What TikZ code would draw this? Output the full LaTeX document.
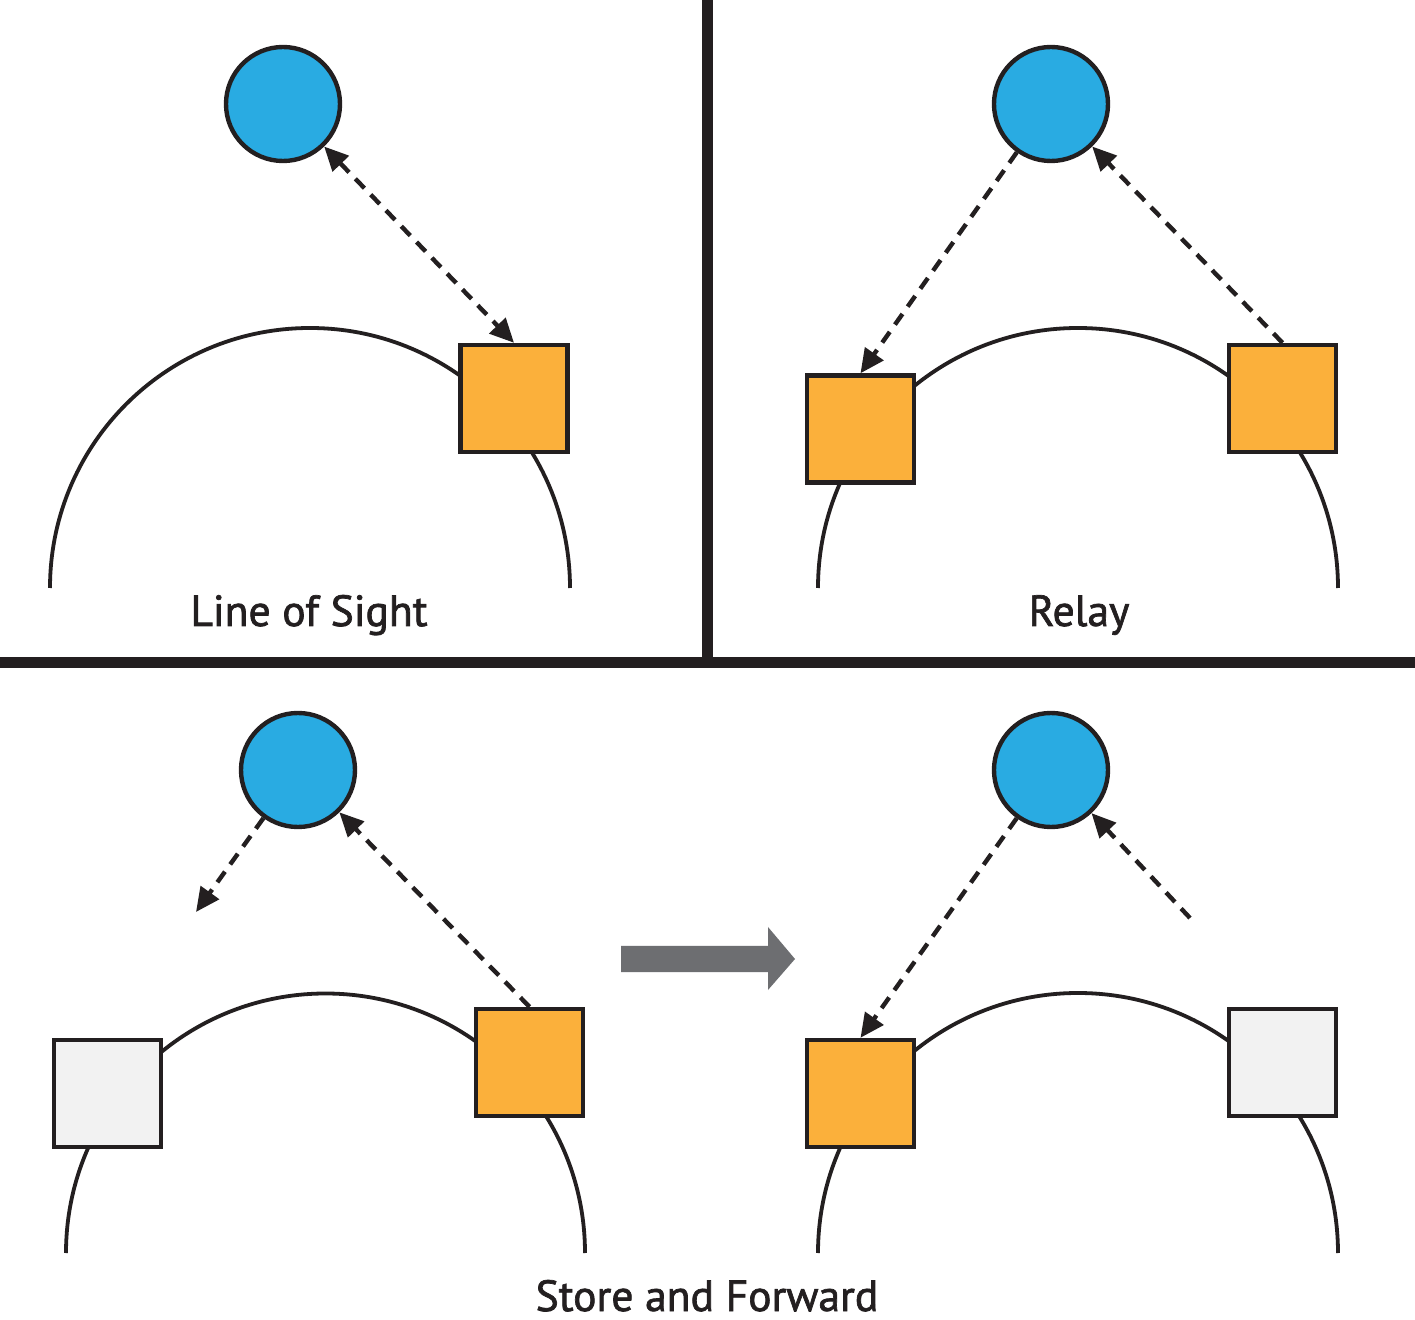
\documentclass[tikz,border=0pt]{standalone}
\usepackage{fontspec}
\setmainfont{PT Sans}
\newfontfamily\lblfont{PT Sans}[FakeBold=1.6]
\usetikzlibrary{arrows.meta}
\definecolor{ink}{HTML}{231F20}
\definecolor{skyb}{HTML}{29ABE2}
\definecolor{orng}{HTML}{FBB03B}
\definecolor{pale}{HTML}{F2F2F2}
\definecolor{slate}{HTML}{6D6E71}
\begin{document}
\begin{tikzpicture}[x=0.5pt,y=-0.5pt,
  sat/.style={circle, draw=ink, fill=skyb, line width=2.2pt, minimum size=57pt, inner sep=0pt},
  box/.style={rectangle, draw=ink, line width=2.2pt, minimum size=53.5pt, inner sep=0pt},
  onbox/.style={box, fill=orng},
  offbox/.style={box, fill=pale},
  orbit/.style={draw=ink, line width=1.9pt},
  link/.style={draw=ink, line width=2.2pt, dash pattern=on 6.5pt off 4.5pt},
  headtip/.style={-{Triangle[length=12pt,width=11pt]}},
  bothtip/.style={{Triangle[length=12pt,width=11pt]}-{Triangle[length=12pt,width=11pt]}},
  divider/.style={draw=ink, line width=5.3pt},
  lbl/.style={font=\lblfont\fontsize{21.8}{25}\selectfont, text=ink, inner sep=0pt, anchor=base}]
\useasboundingbox (0,0) rectangle (1415,1320);
\fill[white] (0,0) rectangle (1415,1320);

% dividers
\draw[divider] (707.5,0) -- (707.5,662);
\draw[divider] (0,662.5) -- (1415,662.5);

% orbits
\draw[orbit] (50,588) arc[start angle=180,end angle=0,radius=130pt];
\draw[orbit] (818,588) arc[start angle=180,end angle=0,radius=130pt];
\draw[orbit] (66,1253) arc[start angle=180,end angle=0,radius=129.75pt];
\draw[orbit] (818,1253) arc[start angle=180,end angle=0,radius=130pt];

% panel 1: line of sight
\node[sat] (c1) at (283,104) {};
\node[onbox] (s1) at (514,398.5) {};
% panel 2: relay
\node[sat] (c2) at (1051,104) {};
\node[onbox] (s2l) at (860.5,429) {};
\node[onbox] (s2r) at (1282.5,398.5) {};
% panel 3: store and forward (before)
\node[sat] (c3) at (298,770) {};
\node[offbox] (s3l) at (107.5,1093.5) {};
\node[onbox] (s3r) at (529.5,1062.5) {};
\coordinate (f3) at (196,912);
% panel 4: store and forward (after)
\node[sat] (c4) at (1051,770) {};
\node[onbox] (s4l) at (860.5,1093.5) {};
\node[offbox] (s4r) at (1282.5,1062.5) {};
\coordinate (f4) at (1190,918);

% links
\draw[link,bothtip] (c1) -- (s1.north);
\draw[link,headtip] (c2) -- (s2l.north);
\draw[link,headtip] (s2r.north) -- (c2);
\draw[link,headtip] (c3) -- (f3);
\draw[link,headtip] (s3r.north) -- (c3);
\draw[link,headtip] (c4) -- (s4l.north);
\draw[link,headtip] (f4) -- (c4);

% transition arrow
\fill[slate] (621,946) -- (768,946) -- (768,927) -- (795,959) -- (768,990) -- (768,972) -- (621,972) -- cycle;

% labels
\node[lbl] (t1) at (309,626) {Line of Sight};
\node[lbl] (t2) at (1079,626) {Relay};
\node[lbl] (t3) at (707,1311) {Store and Forward};
\end{tikzpicture}
\end{document}
